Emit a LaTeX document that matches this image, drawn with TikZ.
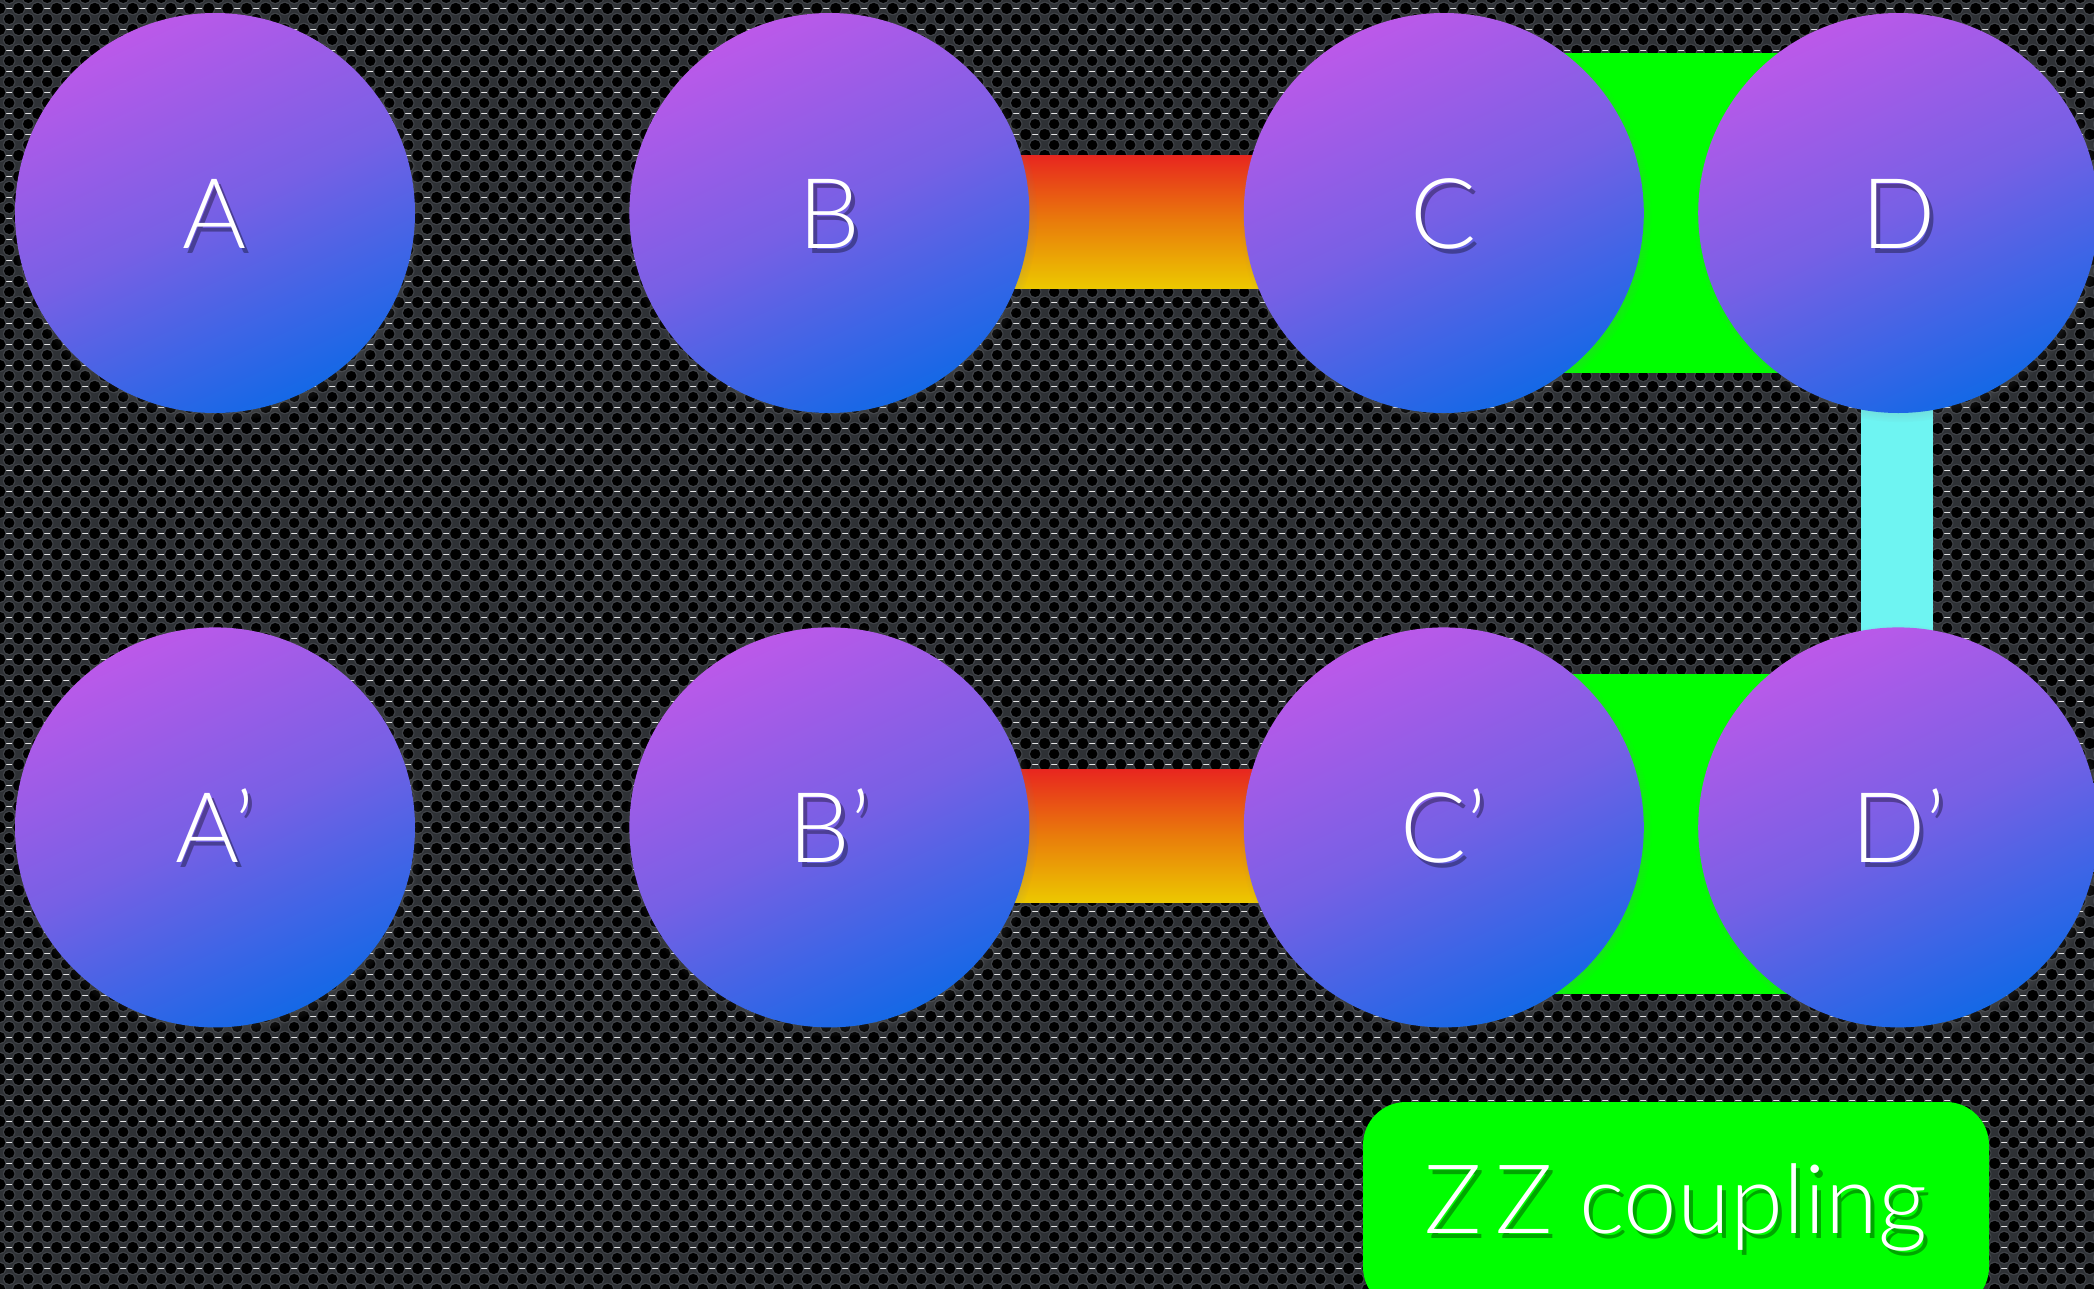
\documentclass[tikz,border=0pt]{standalone}
\usepackage{fontspec}
\setmainfont{Lato Light}
\usetikzlibrary{shadows,patterns,positioning,backgrounds}

\definecolor{meshgrey}{HTML}{2E3135}
\definecolor{meshrim}{HTML}{404348}
\definecolor{qtop}{HTML}{BC59E9}
\definecolor{qmid}{HTML}{7760E5}
\definecolor{qbot}{HTML}{1468E6}
\definecolor{hotred}{HTML}{E8261F}
\definecolor{hotorange}{HTML}{E97C0B}
\definecolor{hotyellow}{HTML}{ECC800}
\definecolor{zzgreen}{HTML}{00FF00}
\definecolor{xxcyan}{HTML}{6EF4F2}

% perforated metal sheet behind everything
\pgfdeclarepatterninherentlycolored{mesh}
{\pgfpointorigin}{\pgfpoint{18.7pt}{21pt}}{\pgfpoint{18.7pt}{21pt}}
{%
  \pgfsetfillcolor{meshgrey}
  \pgfpathrectangle{\pgfpointorigin}{\pgfpoint{18.7pt}{21pt}}
  \pgfusepath{fill}
  \foreach \hx/\hy in {0/0,18.7/0,0/21,18.7/21,9.35/10.5}{%
    \pgfsetfillcolor{meshrim}
    \pgfpathcircle{\pgfpoint{\hx pt}{\hy pt}}{6.4pt}
    \pgfusepath{fill}
    \pgfsetfillcolor{black}
    \pgfpathcircle{\pgfpoint{\hx pt}{\hy pt}}{5.3pt}
    \pgfusepath{fill}
  }%
}

% white label with a dark copy below right
\newcommand{\softshadow}[1]{\makebox[0pt][l]{\hspace{4pt}\raisebox{-5pt}{\pgfsetfillopacity{0.35}\color{black}#1\pgfsetfillopacity{1}}}#1}

\tikzstyle{qubit} = [circle, minimum size=400pt, inner sep=0pt,
    top color=qtop, bottom color=qbot, middle color=qmid, shading angle=25,
    circular drop shadow={shadow xshift=2pt, shadow yshift=-3pt, shadow scale=1.03, opacity=0.5},
    text=white, font=\fontsize{97.7pt}{100pt}\selectfont, text height=70pt, text depth=0pt]
\tikzstyle{coupling} = [rectangle, rounded corners=43pt, fill=zzgreen,
    minimum width=626pt, minimum height=208pt, inner sep=0pt,
    text=white, font=\fontsize{96pt}{100pt}\selectfont, text height=70pt, text depth=16pt]

\begin{document}
\begin{tikzpicture}[x=1pt, y=1pt, node distance=214pt]
      \useasboundingbox (0,0) rectangle (2094,-1288);
      \node [qubit] at (215,-213) (A) {\softshadow{A}};
      \node [qubit, right= of A] (B) {\softshadow{B}};
      \node [qubit, right= of B] (C) {\softshadow{C}};
      \node [qubit, right=54pt of C] (D) {\softshadow{D}};
      \node [qubit, below= of A] (Ap) {\softshadow{A’}};
      \node [qubit, below= of B] (Bp) {\softshadow{B’}};
      \node [qubit, below= of C] (Cp) {\softshadow{C’}};
      \node [qubit, below= of D] (Dp) {\softshadow{D’}};
      \node [coupling] at (1676,-1206) (zz) {\softshadow{Z\kern14pt Z coupling}};
      % Draw edges
      \begin{scope}[on background layer]
        \fill [pattern=mesh] (0,0) rectangle (2094,-1288);
        \shade [top color=hotred, bottom color=hotyellow, middle color=hotorange]
          ([yshift=58pt]B.center) rectangle ([yshift=-75pt]C.center);
        \shade [top color=hotred, bottom color=hotyellow, middle color=hotorange]
          ([yshift=58pt]Bp.center) rectangle ([yshift=-75pt]Cp.center);
        \fill [zzgreen] ([yshift=160pt]C.center) rectangle ([yshift=-160pt]D.center);
        \fill [zzgreen] ([yshift=153pt]Cp.center) rectangle ([yshift=-167pt]Dp.center);
        \fill [xxcyan] ([xshift=-37pt]D.center) rectangle ([xshift=35pt]Dp.center);
      \end{scope}
\end{tikzpicture}
\end{document}
